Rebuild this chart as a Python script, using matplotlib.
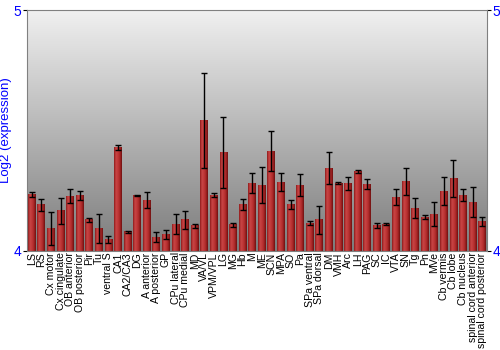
import numpy as np
from matplotlib import pyplot as plt
from matplotlib.colors import LinearSegmentedColormap

plt.rcParams['font.family'] = ['Liberation Sans', 'DejaVu Sans']

regions = ['LS', 'RS', 'Cx motor', 'Cx cingulate', 'OB anterior', 'OB posterior',
           'Pir', 'Tu', 'ventral S', 'CA1', 'CA2/CA3', 'DG', 'A anterior',
           'A posterior', 'GP', 'CPu lateral', 'CPu medial', 'MD', 'VA/VL',
           'VPM/VPL', 'LG', 'MG', 'Hb', 'M', 'ME', 'SCN', 'MPA', 'SO', 'Pa',
           'SPa ventral', 'SPa dorsal', 'DM', 'VMH', 'Arc', 'LH', 'PAG', 'SC',
           'IC', 'VTA', 'SN', 'Tg', 'Pn', 'MVe', 'Cb vermis', 'Cb lobe',
           'Cb nucleus', 'spinal cord anterior', 'spinal cord posterior']

expr = [4.235, 4.192, 4.093, 4.167, 4.227, 4.232, 4.129, 4.093, 4.048, 4.430,
        4.080, 4.230, 4.210, 4.058, 4.068, 4.112, 4.129, 4.104, 4.542, 4.232,
        4.410, 4.108, 4.192, 4.282, 4.274, 4.415, 4.285, 4.194, 4.274, 4.116,
        4.129, 4.343, 4.281, 4.279, 4.329, 4.277, 4.104, 4.111, 4.224, 4.288,
        4.178, 4.141, 4.153, 4.249, 4.301, 4.232, 4.203, 4.123]

err = [0.010, 0.025, 0.067, 0.054, 0.029, 0.019, 0.009, 0.062, 0.013, 0.012,
       0.004, 0.003, 0.033, 0.022, 0.018, 0.040, 0.037, 0.007, 0.196, 0.009,
       0.147, 0.009, 0.022, 0.043, 0.075, 0.082, 0.037, 0.019, 0.044, 0.007,
       0.057, 0.066, 0.005, 0.027, 0.007, 0.021, 0.010, 0.004, 0.032, 0.056,
       0.043, 0.007, 0.050, 0.057, 0.078, 0.026, 0.061, 0.019]

ymin, ymax = 4, 5

fig = plt.figure(figsize=(5, 3.5), dpi=100)
ax = fig.add_axes([0.054, 0.283, 0.920, 0.688])

x = np.arange(len(regions))
ax.set_xlim(-0.5, len(regions) - 0.5)
ax.set_ylim(ymin, ymax)

# background gradient, light at the top, darker towards the bottom
bg = LinearSegmentedColormap.from_list('bg', ['#f0f0f0', '#7c7c7c'])
grad = np.linspace(0, 1, 256).reshape(-1, 1)
ax.imshow(grad, cmap=bg, aspect='auto', origin='upper',
          extent=[-0.5, len(regions) - 0.5, ymin, ymax], zorder=0)

# bars, shaded across their width
bars = ax.bar(x, np.array(expr) - ymin, bottom=ymin, width=0.82, color='none',
              edgecolor='none', zorder=2)
shade = LinearSegmentedColormap.from_list('bar', ['#8e1a1a', '#c84545', '#c03838',
                                                  '#a82626', '#6e1010'])
hgrad = np.linspace(0, 1, 64).reshape(1, -1)
for b in bars:
    x0 = b.get_x()
    ax.imshow(hgrad, cmap=shade, aspect='auto', zorder=2,
              extent=[x0, x0 + b.get_width(), ymin, ymin + b.get_height()])

ax.errorbar(x, expr, yerr=err, fmt='none', ecolor='black', elinewidth=1,
            capsize=2.5, capthick=1, zorder=3)

ax.set_xticks(x)
ax.set_xticklabels(regions, rotation=90, fontsize=7.6)
ax.tick_params(axis='x', length=0, pad=1)

ax.set_yticks([4, 5])
ax.tick_params(axis='y', colors='black', labelcolor='blue', labelsize=10,
               direction='out', length=3, left=True, right=True,
               labelleft=True, labelright=True, pad=1)
ax.set_ylabel('Log2 (expression)', color='blue', fontsize=9.5, labelpad=1)

for s in ax.spines.values():
    s.set_color('#808080')

fig.savefig('out.png', dpi=100)
